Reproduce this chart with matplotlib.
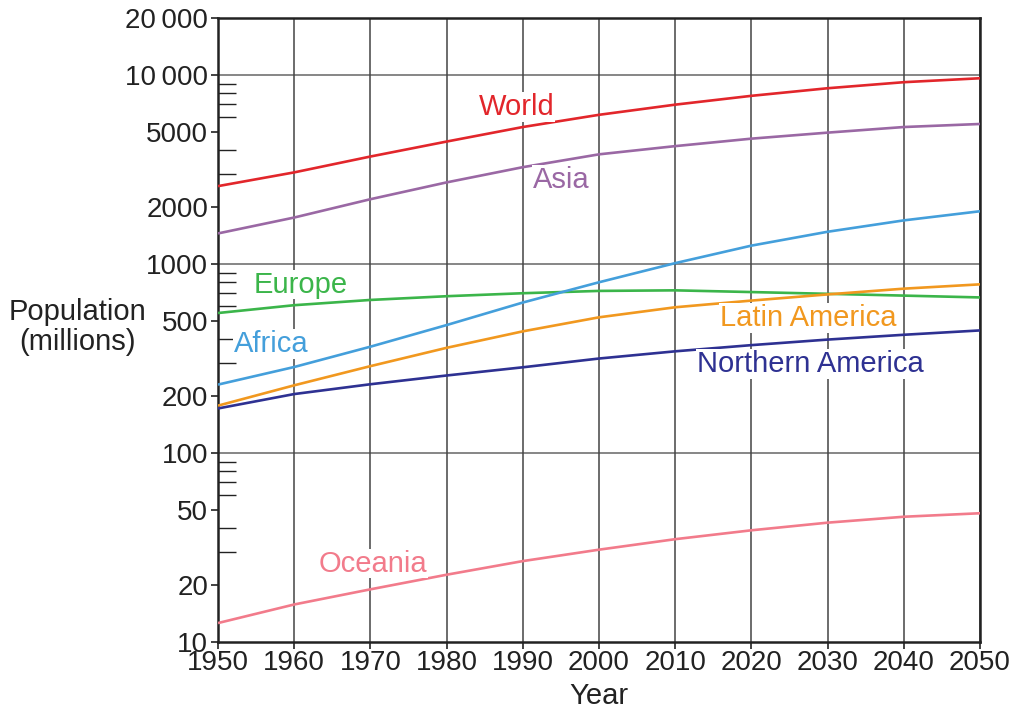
import numpy as np
import matplotlib.pyplot as plt
from matplotlib.ticker import FixedLocator, NullFormatter

plt.rcParams['font.family'] = ['Liberation Sans', 'DejaVu Sans']

years = [1950, 1960, 1970, 1980, 1990, 2000, 2010, 2020, 2030, 2040, 2050]

# population in millions
world = [2580, 3050, 3700, 4440, 5300, 6150, 6960, 7750, 8500, 9150, 9600]
asia = [1450, 1760, 2200, 2700, 3250, 3800, 4200, 4600, 4950, 5300, 5500]
europe = [550, 605, 645, 675, 700, 720, 725, 710, 695, 680, 665]
africa = [230, 285, 365, 475, 625, 800, 1010, 1250, 1480, 1700, 1900]
latin_america = [178, 228, 288, 360, 440, 522, 590, 640, 690, 740, 780]
northern_america = [172, 205, 231, 257, 284, 316, 345, 372, 398, 422, 445]
oceania = [12.6, 15.8, 19.0, 22.7, 26.8, 30.8, 35.0, 39.0, 42.8, 46.0, 48.0]

# name, values, colour, label anchor (centre x, baseline y)
series = [
    ("World", world, "#e2262b", (1989.2, 6140)),
    ("Asia", asia, "#9a68a4", (1995.0, 2524)),
    ("Europe", europe, "#3bb54a", (1960.8, 703)),
    ("Africa", africa, "#449fdb", (1957.0, 342)),
    ("Latin America", latin_america, "#f1981f", (2027.4, 470)),
    ("Northern America", northern_america, "#2e3192", (2027.7, 268)),
    ("Oceania", oceania, "#f27b8b", (1970.3, 23.5)),
]

yticks = [10, 20, 50, 100, 200, 500, 1000, 2000, 5000, 10000, 20000]
ytick_labels = ["10", "20", "50", "100", "200", "500", "1000", "2000", "5000",
                "10\u2009000", "20\u2009000"]

fig = plt.figure(figsize=(10.14, 7.11), dpi=100)
ax = fig.add_axes([0.215, 0.097, 0.7515, 0.8777])

for name, vals, color, pos in series:
    ax.plot(years, vals, color=color, lw=1.9, zorder=3, solid_capstyle='butt')
    ax.text(pos[0], pos[1], name, color=color, fontsize=21, ha='center', va='baseline',
            zorder=4, bbox=dict(facecolor='white', edgecolor='none', pad=0.5))

ax.set_yscale('log')
ax.set_xlim(1950, 2050)
ax.set_ylim(10, 20000)

ax.set_xticks(years)
ax.set_xticklabels([str(y) for y in years])
ax.yaxis.set_major_locator(FixedLocator(yticks))
ax.set_yticklabels(ytick_labels)
minor = [m * 10 ** k for k in range(1, 5) for m in range(2, 10)]
ax.yaxis.set_minor_locator(FixedLocator(minor))
ax.yaxis.set_minor_formatter(NullFormatter())

ax.tick_params(axis='both', which='major', direction='out', length=5, width=1.2,
               labelsize=20, color='#222222', labelcolor='#222222', pad=2)
ax.tick_params(axis='x', which='major', pad=1)
ax.tick_params(axis='y', which='minor', direction='in', length=13, width=1, color='#222222')

ax.grid(axis='x', color='#444444', lw=1.1, zorder=1)
for v in [100, 1000, 10000]:
    ax.axhline(v, color='#666666', lw=1.1, zorder=1)

for s in ax.spines.values():
    s.set_linewidth(1.8)
    s.set_color('#222222')

ax.set_xlabel('Year', fontsize=21, color='#222222', labelpad=4)
ax.set_ylabel('Population\n(millions)', fontsize=21, color='#222222', rotation=0,
              ha='center', va='center', multialignment='center', linespacing=1.1)
ax.yaxis.set_label_coords(-0.185, 0.505)

fig.savefig('out.png', dpi=100)
